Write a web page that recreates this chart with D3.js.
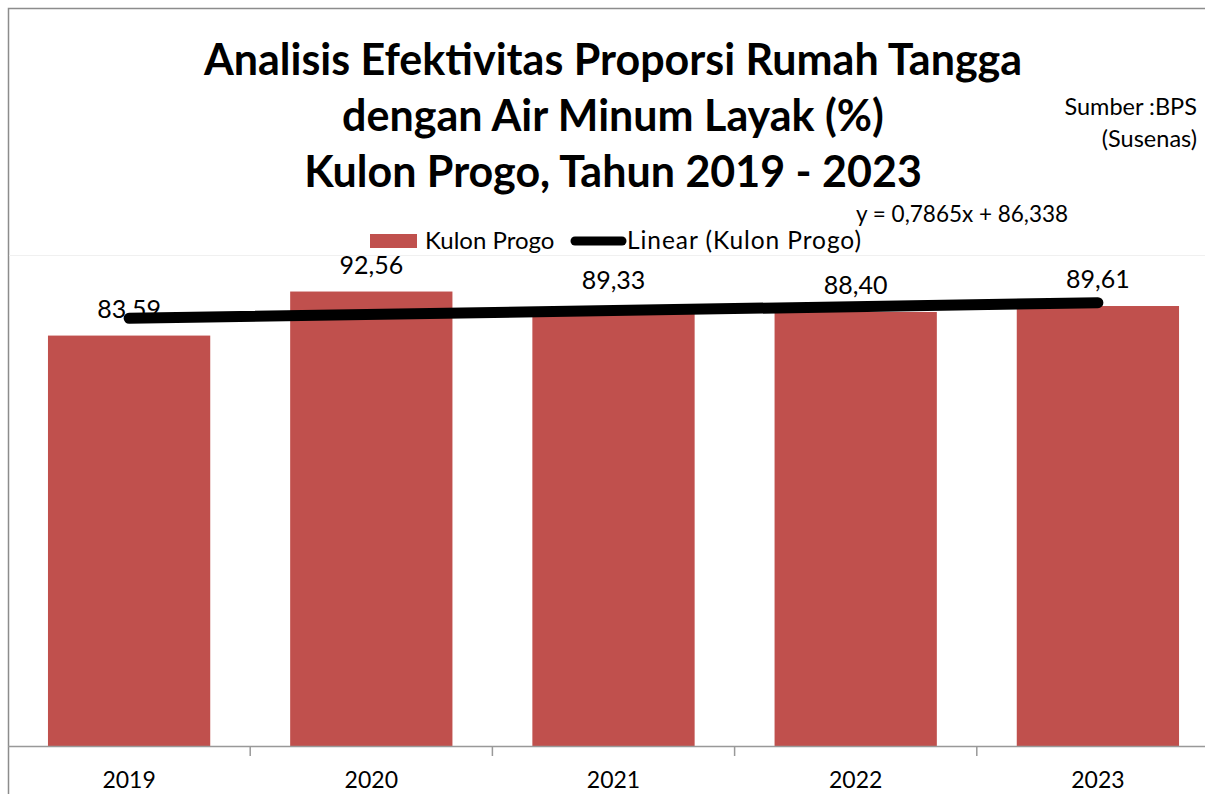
<!DOCTYPE html>
<html><head><meta charset="utf-8">
<script src="https://cdn.jsdelivr.net/npm/d3@7"></script>
<style>body{margin:0;background:#fff}svg{display:block}text{font-family:Lato,"Open Sans",sans-serif;fill:#000}</style>
</head><body>
<script>
const categories = ["2019","2020","2021","2022","2023"];
const values = [83.59, 92.56, 89.33, 88.40, 89.61];
const valueLabels = ["83,59","92,56","89,33","88,40","89,61"];
const trendSlope = 0.7865, trendIntercept = 86.338;
const titleLines = ["Analisis Efektivitas Proporsi Rumah Tangga","dengan Air Minum Layak (%)","Kulon Progo, Tahun 2019 - 2023"];
const sourceLines = ["Sumber :BPS","(Susenas)"];
const equationText = "y = 0,7865x + 86,338";
const legendLabels = ["Kulon Progo","Linear (Kulon Progo)"];

const W=1205,H=794;
const svg=d3.select("body").append("svg").attr("width",W).attr("height",H);
const x=d3.scaleBand().domain(categories).range([8,1219]).paddingInner(0.33).paddingOuter(0.165);
const y=d3.scaleLinear().domain([0,100]).range([746,255]);
const red="#C0504D";

// frame
svg.append("path").attr("d","M8.5,794V8.5H1205").attr("fill","none").attr("stroke","#8c8c8c").attr("stroke-width",1.5);
svg.append("line").attr("x1",9).attr("x2",1205).attr("y1",255.5).attr("y2",255.5).attr("stroke","#f0f0f0");

// title
svg.append("g").selectAll("text").data(titleLines).join("text")
 .attr("x",613).attr("y",(d,i)=>75+i*56).attr("text-anchor","middle")
 .attr("font-size",43).attr("font-weight","bold").text(d=>d);
svg.append("g").selectAll("text").data(sourceLines).join("text")
 .attr("x",1197).attr("y",(d,i)=>115+i*32).attr("text-anchor","end")
 .attr("font-size",23.5).text(d=>d);
svg.append("text").attr("x",856).attr("y",222).attr("font-size",22.5).text(equationText);

// legend
svg.append("rect").attr("x",370).attr("y",234).attr("width",47).attr("height",14).attr("fill",red);
svg.append("text").attr("x",425).attr("y",249).attr("font-size",24).text(legendLabels[0]);
svg.append("line").attr("x1",575).attr("x2",622).attr("y1",241).attr("y2",241).attr("stroke","#000").attr("stroke-width",9).attr("stroke-linecap","round");
svg.append("text").attr("x",627).attr("y",249).attr("font-size",24.5).attr("textLength",234).attr("lengthAdjust","spacing").text(legendLabels[1]);

// bars
svg.append("g").selectAll("rect").data(values).join("rect")
 .attr("x",(d,i)=>x(categories[i])).attr("width",x.bandwidth())
 .attr("y",d=>y(d)).attr("height",d=>y(0)-y(d)).attr("fill",red);

// axis
const ax=d3.axisBottom(x).tickSize(0).tickPadding(0);
const g=svg.append("g").attr("transform","translate(0,746)").call(ax);
g.select(".domain").remove();
g.selectAll("text").attr("y",42).attr("dy",0).attr("font-size",23).attr("fill","#000").style("font-family","Lato");
svg.append("line").attr("x1",8).attr("x2",1205).attr("y1",746.5).attr("y2",746.5).attr("stroke","#999").attr("stroke-width",1.5);
svg.append("g").selectAll("line").data(categories.slice(1)).join("line")
 .attr("x1",d=>x(d)-x.step()*x.paddingInner()/2).attr("x2",d=>x(d)-x.step()*x.paddingInner()/2)
 .attr("y1",746).attr("y2",756).attr("stroke","#999").attr("stroke-width",1.5);

// labels
svg.append("g").selectAll("text").data(values).join("text")
 .attr("x",(d,i)=>x(categories[i])+x.bandwidth()/2).attr("y",d=>y(d)-18)
 .attr("text-anchor","middle").attr("font-size",25).text((d,i)=>valueLabels[i]);

// trend line
const cx=i=>x(categories[i])+x.bandwidth()/2;
svg.append("line").attr("x1",cx(0)).attr("x2",cx(4))
 .attr("y1",y(trendIntercept+trendSlope*1)).attr("y2",y(trendIntercept+trendSlope*5))
 .attr("stroke","#000").attr("stroke-width",11).attr("stroke-linecap","round");
</script>
</body></html>
